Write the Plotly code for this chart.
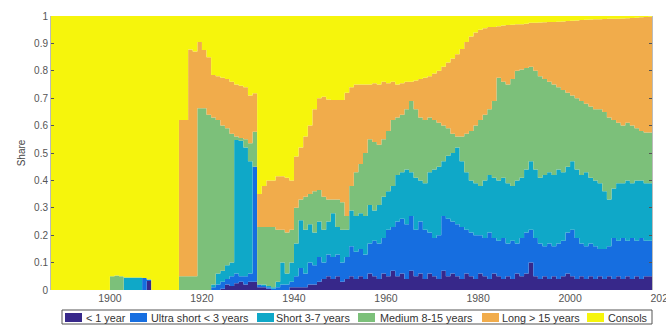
import plotly.graph_objects as go

years = list(range(1887, 2018))

# cumulative share boundaries (top of each layer)
pre = [0.0] * 13  # 1887-1899
top_lt1 = pre + [
    0, 0, 0, 0, 0, 0, 0, 0, 0.033, 0,                 # 1900-1909
    0, 0, 0, 0, 0, 0, 0, 0, 0, 0,                     # 1910-1919
    0, 0, 0, 0, 0.005, 0.02, 0.015, 0.025, 0.03, 0.02,  # 1920-1929
    0.03, 0.03, 0.01, 0.01, 0.005, 0, 0, 0, 0, 0.01,  # 1930-1939
    0.01, 0.01, 0.01, 0.02, 0.02, 0.03, 0.04, 0.05, 0.04, 0.05,  # 1940-1949
    0.03, 0.04, 0.05, 0.04, 0.05, 0.04, 0.06, 0.05, 0.04, 0.06,  # 1950-1959
    0.05, 0.07, 0.05, 0.06, 0.04, 0.07, 0.05, 0.06, 0.04, 0.06,  # 1960-1969
    0.05, 0.04, 0.07, 0.05, 0.06, 0.05, 0.04, 0.06, 0.05, 0.04,  # 1970-1979
    0.06, 0.05, 0.04, 0.06, 0.05, 0.04, 0.05, 0.04, 0.06, 0.05,  # 1980-1989
    0.06, 0.10, 0.05, 0.04, 0.05, 0.04, 0.05, 0.04, 0.05, 0.06,  # 1990-1999
    0.05, 0.04, 0.05, 0.04, 0.05, 0.04, 0.05, 0.04, 0.05, 0.04,  # 2000-2009
    0.05, 0.04, 0.05, 0.04, 0.05, 0.04, 0.05, 0.05,              # 2010-2017
]
top_ultra = pre + [
    0, 0, 0, 0, 0, 0, 0, 0.044, 0.038, 0,
    0, 0, 0, 0, 0, 0, 0, 0, 0, 0,
    0, 0, 0.01, 0.02, 0.03, 0.04, 0.05, 0.06, 0.05, 0.05,
    0.06, 0.45, 0.02, 0.015, 0.01, 0.005, 0.01, 0.02, 0.02, 0.03,
    0.05, 0.08, 0.06, 0.10, 0.09, 0.12, 0.10, 0.13, 0.12, 0.13,
    0.10, 0.12, 0.16, 0.14, 0.15, 0.13, 0.17, 0.18, 0.17, 0.19,
    0.22, 0.23, 0.25, 0.26, 0.24, 0.27, 0.22, 0.25, 0.22, 0.21,
    0.19, 0.20, 0.27, 0.26, 0.25, 0.24, 0.23, 0.22, 0.21, 0.20,
    0.20, 0.19, 0.21, 0.19, 0.18, 0.19, 0.17, 0.18, 0.17, 0.19,
    0.21, 0.22, 0.19, 0.17, 0.16, 0.17, 0.16, 0.17, 0.18, 0.21,
    0.22, 0.19, 0.17, 0.16, 0.17, 0.16, 0.15, 0.15, 0.16, 0.19,
    0.18, 0.19, 0.18, 0.19, 0.18, 0.19, 0.18, 0.18,
]
top_short = pre + [
    0, 0, 0, 0.046, 0.046, 0.046, 0.046, 0.044, 0.038, 0,
    0, 0, 0, 0, 0, 0, 0, 0, 0, 0,
    0, 0, 0.02, 0.06, 0.07, 0.09, 0.10, 0.547, 0.545, 0.52,
    0.47, 0.45, 0.02, 0.02, 0.015, 0.01, 0.03, 0.10, 0.06, 0.10,
    0.17, 0.255, 0.22, 0.24, 0.21, 0.25, 0.22, 0.25, 0.28, 0.23,
    0.22, 0.22, 0.29, 0.27, 0.28, 0.27, 0.31, 0.29, 0.31, 0.34,
    0.36, 0.38, 0.42, 0.43, 0.44, 0.43, 0.41, 0.40, 0.39, 0.43,
    0.44, 0.45, 0.47, 0.49, 0.50, 0.52, 0.47, 0.43, 0.40, 0.39,
    0.38, 0.40, 0.42, 0.41, 0.40, 0.41, 0.39, 0.38, 0.40, 0.41,
    0.44, 0.47, 0.44, 0.41, 0.42, 0.43, 0.42, 0.44, 0.43, 0.45,
    0.47, 0.44, 0.42, 0.43, 0.41, 0.40, 0.39, 0.36, 0.33, 0.37,
    0.39, 0.39, 0.40, 0.39, 0.40, 0.40, 0.39, 0.39,
]
top_medium = pre + [
    0.05, 0.053, 0.05, 0.046, 0.046, 0.046, 0.046, 0.044, 0.038, 0,
    0, 0, 0, 0, 0, 0.05, 0.05, 0.05, 0.05, 0.663,
    0.663, 0.64, 0.63, 0.62, 0.60, 0.59, 0.57, 0.56, 0.555, 0.55,
    0.536, 0.578, 0.23, 0.23, 0.23, 0.23, 0.22, 0.22, 0.21, 0.22,
    0.30, 0.33, 0.34, 0.35, 0.36, 0.365, 0.34, 0.33, 0.33, 0.33,
    0.32, 0.27, 0.38, 0.43, 0.46, 0.50, 0.55, 0.54, 0.53, 0.55,
    0.58, 0.62, 0.63, 0.64, 0.66, 0.69, 0.66, 0.63, 0.62, 0.63,
    0.62, 0.61, 0.60, 0.59, 0.57, 0.56, 0.56, 0.57, 0.58, 0.60,
    0.62, 0.64, 0.66, 0.69, 0.775, 0.76, 0.75, 0.77, 0.80, 0.805,
    0.81, 0.815, 0.80, 0.78, 0.77, 0.76, 0.75, 0.74, 0.73, 0.72,
    0.71, 0.70, 0.69, 0.68, 0.67, 0.66, 0.66, 0.65, 0.63, 0.62,
    0.61, 0.60, 0.61, 0.60, 0.59, 0.58, 0.575, 0.575,
]
top_long = pre + [
    0.05, 0.053, 0.05, 0.046, 0.046, 0.046, 0.046, 0.044, 0.038, 0,
    0, 0, 0, 0, 0, 0.62, 0.62, 0.878, 0.87, 0.905,
    0.876, 0.849, 0.785, 0.78, 0.775, 0.77, 0.76, 0.75, 0.745, 0.74,
    0.71, 0.718, 0.35, 0.38, 0.40, 0.40, 0.415, 0.415, 0.41, 0.40,
    0.487, 0.52, 0.56, 0.60, 0.66, 0.70, 0.705, 0.695, 0.693, 0.693,
    0.693, 0.72, 0.74, 0.75, 0.75, 0.75, 0.75, 0.755, 0.75, 0.76,
    0.755, 0.76, 0.75, 0.755, 0.76, 0.76, 0.765, 0.77, 0.775, 0.78,
    0.79, 0.80, 0.815, 0.83, 0.845, 0.86, 0.88, 0.905, 0.925, 0.94,
    0.95, 0.955, 0.96, 0.96, 0.963, 0.965, 0.967, 0.968, 0.97, 0.97,
    0.972, 0.975, 0.975, 0.976, 0.977, 0.978, 0.978, 0.979, 0.98, 0.982,
    0.983, 0.984, 0.985, 0.986, 0.987, 0.988, 0.988, 0.989, 0.99, 0.99,
    0.99, 0.991, 0.992, 0.993, 0.994, 0.995, 0.996, 0.997,
]
top_consols = [1.0] * len(years)

series_names = ["< 1 year", "Ultra short < 3 years", "Short 3-7 years",
                "Medium 8-15 years", "Long > 15 years", "Consols"]
series_tops = [top_lt1, top_ultra, top_short, top_medium, top_long, top_consols]
colors = ["#37288a", "#166ee0", "#0fa8c8", "#7cc07a", "#f1ac4b", "#f6f50c"]

x_tick_vals = [1900, 1920, 1940, 1960, 1980, 2000, 2020]
y_tick_vals = [0, 0.1, 0.2, 0.3, 0.4, 0.5, 0.6, 0.7, 0.8, 0.9, 1]
y_tick_text = ["0", "0.1", "0.2", "0.3", "0.4", "0.5", "0.6", "0.7", "0.8", "0.9", "1"]

# page geometry (pixels)
W, H = 666, 327
ML, MT, MB = 51, 16, 37
PLOT_RIGHT = 652
PH = H - MT - MB
X0, X1 = 1887.2, 2017.8
scale = (PLOT_RIGHT - ML) / (X1 - X0)          # px per year
X1_full = X0 + (W - ML) / scale               # year at the page edge
dom_end = (PLOT_RIGHT - ML) / (W - ML)

def px(xp):
    return (xp - ML) / (W - ML)

def py(yp):
    return (H - MB - yp) / PH

fig = go.Figure()
xs = years + [years[-1] + 1]
for i, (name, tops, col) in enumerate(zip(series_names, series_tops, colors)):
    fig.add_trace(go.Scatter(
        x=xs, y=tops + [tops[-1]], name=name, mode="lines",
        line=dict(width=0, shape="hv", color=col),
        fill="tozeroy" if i == 0 else "tonexty", fillcolor=col,
        hoverinfo="skip", showlegend=False,
    ))

fig.update_layout(
    width=W, height=H,
    margin=dict(l=ML, r=0, t=MT, b=MB, autoexpand=False),
    paper_bgcolor="white", plot_bgcolor="rgba(0,0,0,0)",
    font=dict(family="Liberation Sans, Arial, sans-serif", size=10, color="#444"),
    showlegend=False,
    xaxis=dict(range=[X0, X1], domain=[0, dom_end], showticklabels=False, ticks="",
               showgrid=False, zeroline=False, showline=False, automargin=False),
    # tick-label axis with the same scale but reaching the page edge (2020 is cut off)
    xaxis2=dict(range=[X0, X1_full], domain=[0, 1], anchor="y", side="bottom",
                tickvals=x_tick_vals, ticks="", showgrid=False, zeroline=False, showline=False,
                ticklabeloverflow="allow", automargin=False,
                tickfont=dict(size=10.5, color="#555")),
    yaxis=dict(range=[0, 1], tickvals=y_tick_vals, ticktext=y_tick_text, showgrid=False,
               zeroline=False, showline=True, linecolor="#bbb", linewidth=1, mirror="ticks",
               ticks="inside", ticklen=3, tickcolor="#555", automargin=False,
               title=dict(text="Share", font=dict(size=10, color="#444"), standoff=6),
               tickfont=dict(size=10, color="#555")),
)
# invisible helper trace so xaxis2 is drawn
fig.add_trace(go.Scatter(x=[X0], y=[0], xaxis="x2", yaxis="y", mode="markers",
                         marker=dict(opacity=0), hoverinfo="skip", showlegend=False))

# legend drawn as a boxed single row, like the original
shapes = [dict(type="rect", xref="paper", yref="paper", x0=px(62), x1=px(652),
               y0=py(324), y1=py(310), line=dict(color="#555", width=1), fillcolor="white")]
sw_x = [65, 130, 257, 358, 482, 587]
tx_x = [84, 149, 274, 378, 500, 606]
for name, col, sx, tx in zip(series_names, colors, sw_x, tx_x):
    shapes.append(dict(type="rect", xref="paper", yref="paper", x0=px(sx), x1=px(sx + 17),
                       y0=py(322), y1=py(313), line=dict(width=0), fillcolor=col))
    fig.add_annotation(x=px(tx), y=py(317.5), xref="paper", yref="paper", text=name,
                       showarrow=False, xanchor="left", yanchor="middle",
                       font=dict(size=10.8, color="#333"))
fig.update_layout(shapes=shapes)

fig.write_html("out.html")
